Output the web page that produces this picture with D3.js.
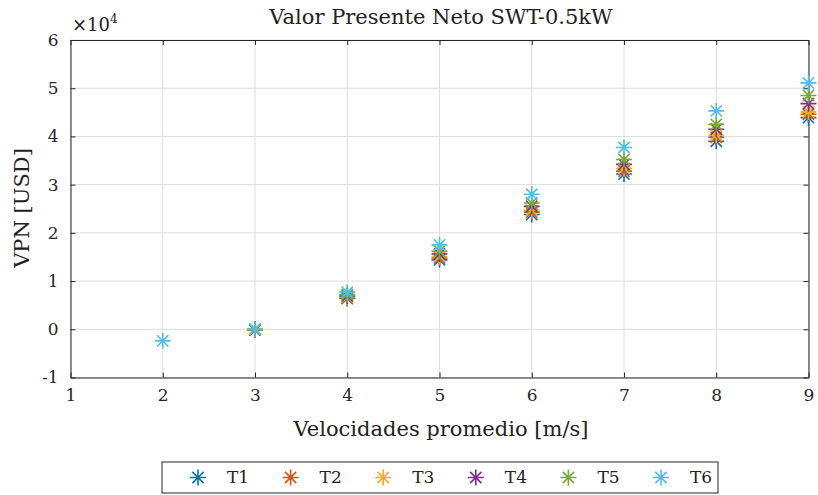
<!DOCTYPE html>
<html>
<head>
<meta charset="utf-8">
<script src="https://cdn.jsdelivr.net/npm/d3@7"></script>
<style>
  body { margin: 0; background: #fff; }
  text { font-family: "DejaVu Serif", "Liberation Serif", serif; fill: #222; }
</style>
</head>
<body>
<svg id="chart" width="818" height="495"></svg>
<script>
// wind speeds (m/s)
const speeds = [2, 3, 4, 5, 6, 7, 8, 9]
const seriesNames = ['T1', 'T2', 'T3', 'T4', 'T5', 'T6']
// NPV in USD (null = not plotted)
const T1 = [null, -150, 6400, 14400, 23800, 32200, 39000, 43900]
const T2 = [null, -120, 6500, 14800, 24300, 32800, 39800, 44600]
const T3 = [null, -80, 6700, 15100, 24700, 33400, 40300, 45100]
const T4 = [null, -50, 6900, 15600, 25500, 34200, 41500, 46800]
const T5 = [null, -20, 7200, 16200, 26200, 35200, 42500, 48500]
const T6 = [-2400, 0, 7700, 17500, 28000, 37700, 45300, 51100]
const xTicks = [1, 2, 3, 4, 5, 6, 7, 8, 9]
const yTicks = [-1, 0, 1, 2, 3, 4, 5, 6]
const colors = ['#0072BD', '#D95319', '#EDB120', '#7E2F8E', '#77AC30', '#4DBEEE']

const allSeries = [T1, T2, T3, T4, T5, T6]

const svg = d3.select('#chart')
const plotLeft = 70.5, plotRight = 808.5, plotTop = 40, plotBottom = 377.5

const x = d3.scaleLinear().domain([1, 9]).range([plotLeft, plotRight])
const y = d3.scaleLinear().domain([-1e4, 6e4]).range([plotBottom, plotTop])

// grid
svg.append('g')
	.selectAll('line')
	.data(xTicks)
	.join('line')
	.attr('x1', (d) => x(d)).attr('x2', (d) => x(d))
	.attr('y1', plotTop).attr('y2', plotBottom)
	.style('stroke', '#dedede').style('stroke-width', 1)
svg.append('g')
	.selectAll('line')
	.data(yTicks)
	.join('line')
	.attr('x1', plotLeft).attr('x2', plotRight)
	.attr('y1', (d) => y(d * 1e4)).attr('y2', (d) => y(d * 1e4))
	.style('stroke', '#dedede').style('stroke-width', 1)

// axes (MATLAB style box with inward ticks)
const xAxis = d3.axisBottom(x).tickValues(xTicks).tickSizeInner(-5).tickSizeOuter(0).tickPadding(11).tickFormat(d3.format('d'))
const xAxisTop = d3.axisTop(x).tickValues(xTicks).tickSizeInner(-5).tickSizeOuter(0).tickFormat('')
const yAxis = d3.axisLeft(y).tickValues(yTicks.map((d) => d * 1e4)).tickSizeInner(-5).tickSizeOuter(0).tickPadding(12).tickFormat((d) => d / 1e4)
const yAxisRight = d3.axisRight(y).tickValues(yTicks.map((d) => d * 1e4)).tickSizeInner(-5).tickSizeOuter(0).tickFormat('')

svg.append('g').attr('transform', `translate(0,${plotBottom})`).call(xAxis)
svg.append('g').attr('transform', `translate(0,${plotTop})`).call(xAxisTop)
svg.append('g').attr('transform', `translate(${plotLeft},0)`).call(yAxis)
svg.append('g').attr('transform', `translate(${plotRight},0)`).call(yAxisRight)

svg.selectAll('.domain').style('stroke', '#262626').style('stroke-width', 1)
svg.selectAll('.tick line').style('stroke', '#262626')
svg.selectAll('.tick text').style('font-size', '17px').style('fill', '#262626')
	.style('font-family', '"DejaVu Serif", serif')

// asterisk marker
function asterisk(g, cx, cy, r, color) {
	const d = r * Math.SQRT1_2
	const p = `M${cx - r},${cy}L${cx + r},${cy}M${cx},${cy - r}L${cx},${cy + r}` +
		`M${cx - d},${cy - d}L${cx + d},${cy + d}M${cx - d},${cy + d}L${cx + d},${cy - d}`
	g.append('path').attr('d', p).style('stroke', color).style('stroke-width', 1.6).style('fill', 'none')
}

const marks = svg.append('g')
allSeries.forEach((s, i) => {
	s.forEach((v, j) => {
		if (v === null) return
		asterisk(marks, x(speeds[j]), y(v), 8, colors[i])
	})
})

// labels
svg.append('text').attr('x', 441).attr('y', 24).attr('text-anchor', 'middle')
	.style('font-size', '21px').text('Valor Presente Neto SWT-0.5kW')
svg.append('text').attr('x', 441).attr('y', 436).attr('text-anchor', 'middle')
	.style('font-size', '21px').text('Velocidades promedio [m/s]')
svg.append('text').attr('transform', 'translate(29,208) rotate(-90)').attr('text-anchor', 'middle')
	.style('font-size', '21px').text('VPN [USD]')
const mult = svg.append('text').attr('x', 72).attr('y', 31).style('font-size', '18px')
mult.append('tspan').text('×10')
mult.append('tspan').attr('dy', -8).style('font-size', '12px').text('4')

// legend
const lg = svg.append('g')
lg.append('rect').attr('x', 162).attr('y', 462).attr('width', 556).attr('height', 31)
	.style('fill', '#fff').style('stroke', '#262626').style('stroke-width', 1)
seriesNames.forEach((name, i) => {
	const mx = 198 + i * 92.6
	asterisk(lg, mx, 477.5, 8, colors[i])
	lg.append('text').attr('x', mx + 29).attr('y', 483).style('font-size', '17px').text(name)
})
</script>
</body>
</html>
